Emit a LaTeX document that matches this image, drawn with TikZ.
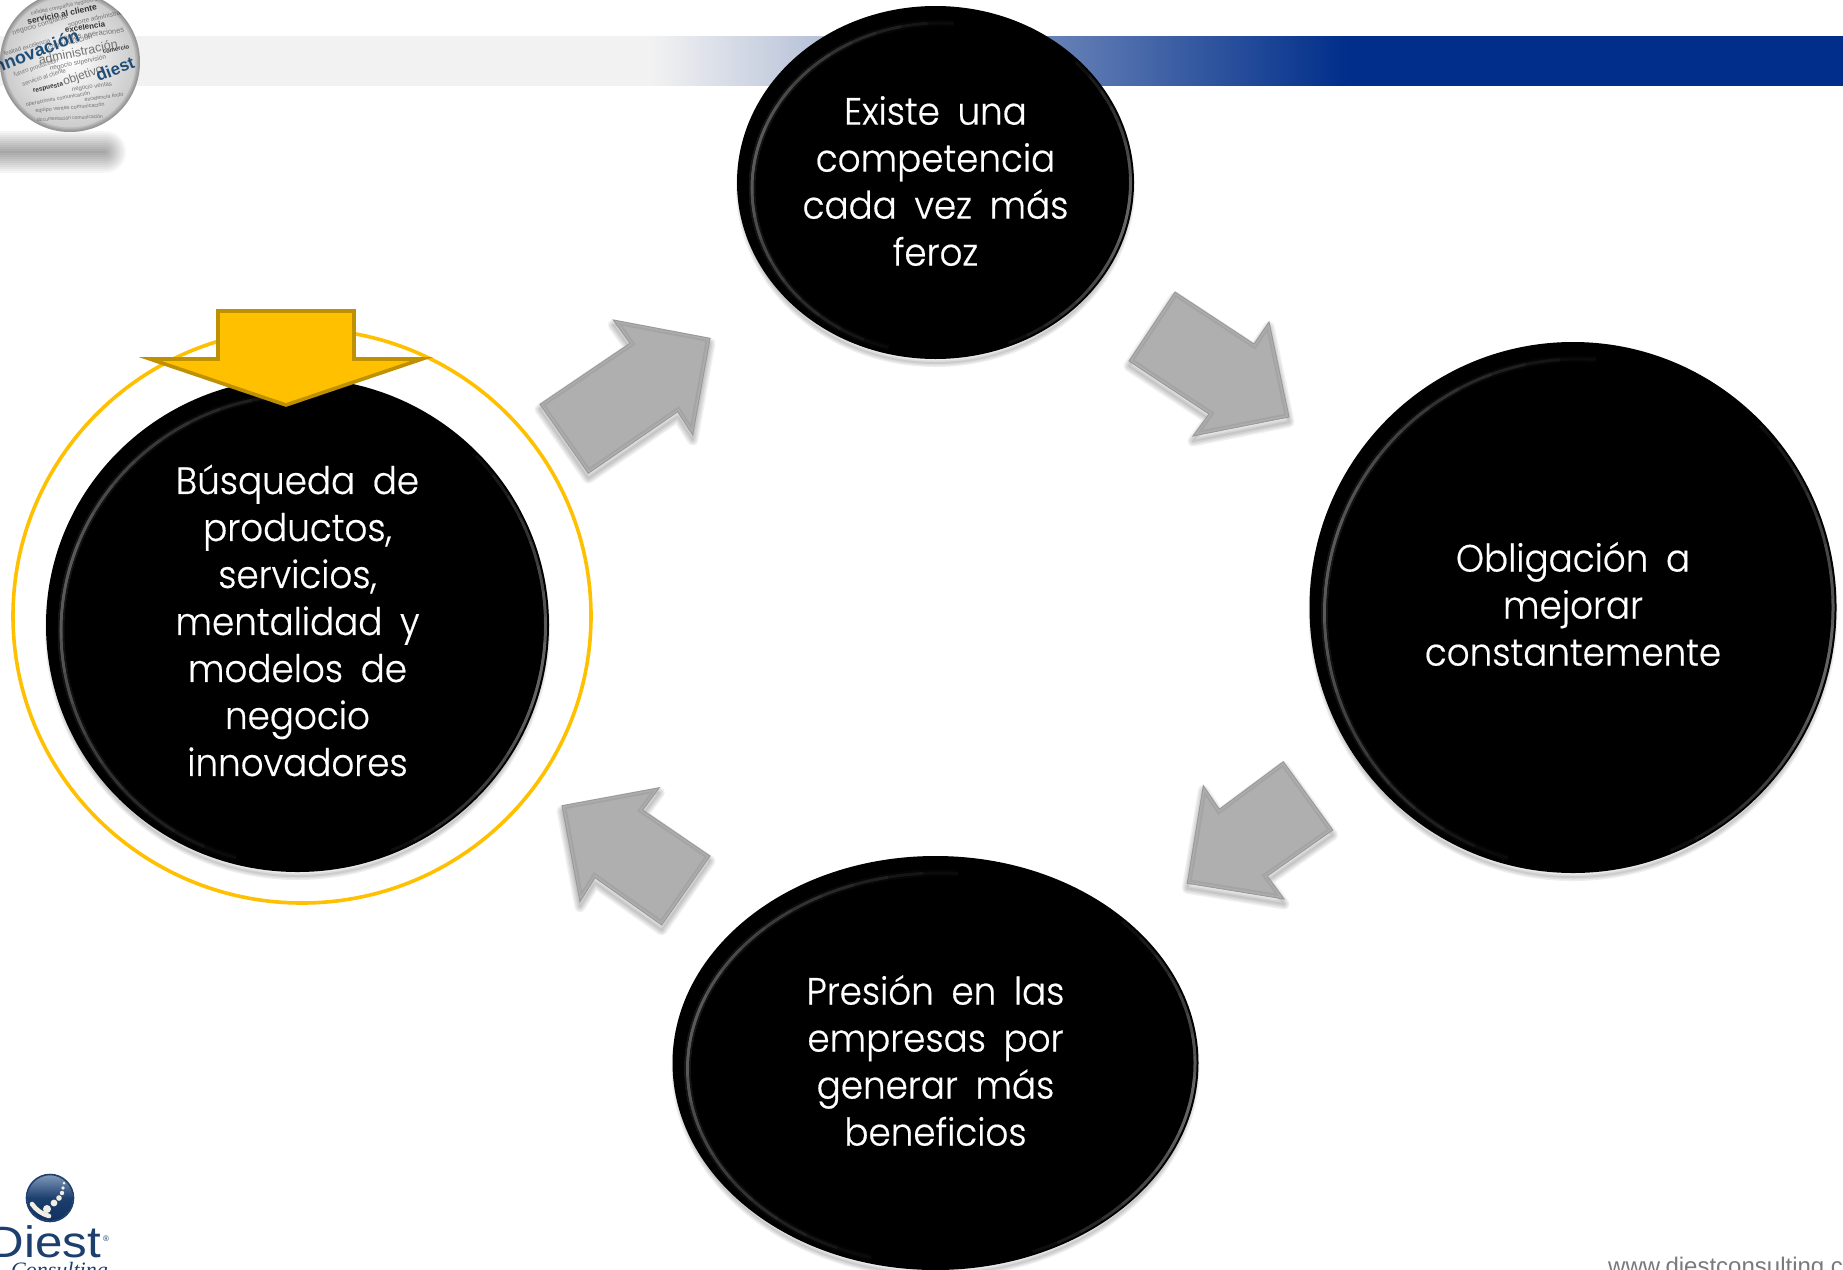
\documentclass[tikz,border=0pt]{standalone}
\usepackage{fontspec}
\setmainfont{Poppins}[UprightFont=* Light,FakeStretch=0.94,WordSpace=1.8,FakeBold=0.5]
\newfontfamily\arialf{Liberation Sans}
\newfontfamily\scriptf{Liberation Serif Italic}
\usetikzlibrary{shapes.geometric,calc}
\definecolor{bannerblue}{HTML}{002E8A}
\definecolor{bannergrey}{HTML}{F2F2F2}
\definecolor{goldfill}{HTML}{FFC000}
\definecolor{goldedge}{HTML}{BF9000}
\definecolor{arrowgrey}{HTML}{AFAFAF}
\definecolor{arrowedge}{HTML}{9A9A9A}
\definecolor{navy}{HTML}{1C3F6E}
\definecolor{navylight}{HTML}{7F97B8}
\definecolor{navydark}{HTML}{12305F}
\definecolor{wordblue}{HTML}{1F4E79}
\definecolor{pearl}{HTML}{F1EEE4}
\pgfdeclarehorizontalshading{bannershade}{100bp}{color(0bp)=(bannergrey); color(42.65bp)=(bannergrey); color(61.55bp)=(bannerblue); color(100bp)=(bannerblue)}
\newcommand{\fs}[1]{\fontsize{#1}{#1}\selectfont}
\tikzset{
  bubblenode/.style={ellipse,fill=black,inner sep=0pt,outer sep=0pt},
  bubbletext/.style={text=white,align=center,inner sep=0pt,font=\fontsize{38}{47}\selectfont},
  word/.style={inner sep=0pt,font=\arialf\fs{#1},text=black!55},
  boldword/.style={inner sep=0pt,font=\arialf\bfseries\fs{#1},text=black!80},
}
\newcommand{\softshade}[2]{%
  \foreach \w in {11,8,5,2}{\draw[black,opacity=.06,line width=\w pt,line join=round,shift={#1}] #2;}}
\newcommand{\blockarrow}[1]{%
  \softshade{(0pt,-5pt)}{#1}
  \fill[arrowgrey] #1;
  \begin{scope}\clip #1;
    \draw[black,opacity=.06,line width=8pt,line join=miter] #1;
    \draw[white,opacity=.10,line width=4pt,line join=miter] #1;
  \end{scope}
  \draw[arrowedge,line width=1pt,line join=miter] #1;
}
\newcommand{\bubble}[7]{% name cx cy rx ry text text-dy
  \foreach \w in {8,5,2}{\draw[black,opacity=.07,line width=\w pt] (#2,#3+5) ellipse [x radius=#4 pt-3pt,y radius=#5 pt-1pt];}
  \node[bubblenode,minimum width=#4*2 pt,minimum height=#5*2 pt] (#1) at (#2,#3) {};
  \node[bubbletext] (#1-t) at (#2,#3+#7) {#6};
  \pgfmathsetmacro{\irx}{#4-10}\pgfmathsetmacro{\iry}{#5-11}
  \coordinate (#1-i) at (#2+5,#3+6);
  \foreach \s in {12,20,...,84}{
    \pgfmathsetmacro{\a}{170-\s}\pgfmathsetmacro{\b}{170+\s}
    \draw[white,opacity=.035,line width=3pt] ($(#1-i)+(\a:\irx pt and \iry pt)$) arc[start angle=\a,end angle=\b,x radius=\irx pt,y radius=\iry pt];
    \draw[white,opacity=.012,line width=7pt] ($(#1-i)+(\a:\irx pt and \iry pt)$) arc[start angle=\a,end angle=\b,x radius=\irx pt,y radius=\iry pt];
  }
  \pgfmathsetmacro{\orx}{#4-3.5}\pgfmathsetmacro{\ory}{#5-3.5}
  \foreach \s in {8,14,...,56}{
    \pgfmathsetmacro{\a}{-12-\s}\pgfmathsetmacro{\b}{-12+\s}
    \draw[white,opacity=.055,line width=3pt] ($(#1)+(\a:\orx pt and \ory pt)$) arc[start angle=\a,end angle=\b,x radius=\orx pt,y radius=\ory pt];
  }
}
\begin{document}
\begin{tikzpicture}[x=1pt,y=-1pt]
\useasboundingbox (0,0) rectangle (1843,1269);
\clip (0,0) rectangle (1843,1269);
\fill[white] (0,0) rectangle (1843,1269);
% banner
\shade[shading=bannershade] (0,36) rectangle (1843,85);
% block arrows
\blockarrow{(540,404.3) -- (630,343.3) -- (613.3,320) -- (710,338.3) -- (692.7,435) -- (677.7,411.7) -- (588.3,473.3) -- cycle}
\blockarrow{(1175,292) -- (1254,344) -- (1269,322) -- (1289,417) -- (1193,436) -- (1209,414) -- (1129,361) -- cycle}
\blockarrow{(1283.3,761.7) -- (1332.7,830) -- (1267.3,876) -- (1284,899) -- (1187.3,883.3) -- (1203.3,785.7) -- (1219.3,809.3) -- cycle}
\blockarrow{(659.3,787.7) -- (642.7,810) -- (710,856) -- (661.7,925) -- (595,877.7) -- (580,901.7) -- (562,805.7) -- cycle}
% highlight ring
\draw[goldfill,line width=3.6pt] (302,616) ellipse [x radius=289pt,y radius=287pt];
% bubbles
\bubble{comp}{935.5}{182.5}{198.5}{176.5}{Existe una\\competencia\\cada vez más\\feroz}{-1.5}
\bubble{oblig}{1573}{607.5}{263.5}{265.5}{Obligación a\\mejorar\\constantemente}{-3.5}
\bubble{pres}{935.5}{1063}{263}{207}{Presión en las\\empresas por\\generar más\\beneficios}{-2.5}
\bubble{busq}{297.5}{625}{251.5}{247}{Búsqueda de\\productos,\\servicios,\\mentalidad y\\modelos de\\negocio\\innovadores}{-4.5}
% gold down arrow
\draw[goldedge,fill=goldfill,line width=3.6pt,line join=miter,miter limit=10]
  (218,311) -- (354,311) -- (354,359) -- (422,359) -- (286,405) -- (150,359) -- (218,359) -- cycle;
% ball shadow
\foreach \w in {2,6,...,42}{\draw[black,opacity=.036,line width=\w pt,line cap=round] (-30,152) -- (105,152);}
% word ball
\begin{scope}
  \clip (70,62) circle (70pt);
  \shade[inner color=white,outer color=black!22] (70,62) circle (72pt);
  \node[word=5.5,rotate=12] (w1) at (72,5) {calidad compañía negocio servicio};
  \node[boldword=8.5,rotate=12] (w2) at (62,14) {servicio al cliente};
  \node[word=6.5,rotate=13] (w3) at (100,18) {soporte administración};
  \node[word=7,rotate=17] (w4) at (40,25) {negocio compañía};
  \node[boldword=8,rotate=9] (w5) at (85,27) {excelencia};
  \node[word=7.5,rotate=8] (w6) at (92,35) {ventas operaciones};
  \node[word=6,rotate=16] (w7) at (27,47) {lealtad excelencia};
  \node[word=7.5,rotate=15] (w8) at (70,42) {comunicación};
  \node[word=12.5,rotate=12] (w9) at (78,52) {administración};
  \node[boldword=6,rotate=12] (w10) at (116,49) {comercio};
  \node[word=6,rotate=18] (w11) at (36,68) {futuro producción};
  \node[word=6.5,rotate=12] (w12) at (78,63) {negocio supervisión};
  \node[word=6,rotate=18] (w13) at (44,77) {servicio al cliente};
  \node[word=12,rotate=20] (w14) at (83,76) {objetivo};
  \node[boldword=6.5,rotate=12] (w15) at (48,88) {respuesta};
  \node[word=6,rotate=8] (w16) at (92,87) {negocio ventas};
  \node[word=5.5,rotate=10] (w17) at (58,99) {operaciones comunicación};
  \node[word=5.5,rotate=8] (w18) at (104,97) {excelencia éxito};
  \node[word=5.5,rotate=5] (w19) at (70,108) {equipo ventas comunicación};
  \node[word=5,rotate=3] (w20) at (70,118) {documentación comunicación};
  \node[boldword=18,rotate=21,text=wordblue] (w21) at (34,52) {innovación};
  \node[boldword=17,rotate=21,text=wordblue] (w22) at (115,69) {diest};
  \foreach \w in {8,5,2}{\draw[black,opacity=.09,line width=\w pt] (70,62) circle (69.5pt);}
\end{scope}
% logo
\shade[top color=navylight,bottom color=navydark,middle color=navy] (50,1198) circle (23pt);
\draw[navy,line width=1.6pt] (50,1198) circle (23.5pt);
\foreach \px/\py/\pr in {64/1183/1.5,63/1188/1.8,62/1193/2.2,59/1198/2.8,54/1203/3.4,47/1209/4}{\fill[pearl] (\px,\py) circle (\pr pt);}
\draw[pearl,line width=4.6pt,line cap=round] (32,1204) .. controls (36,1210) and (42,1214) .. (49,1216);
% logo text
\node[inner sep=0pt,anchor=base east,xscale=1.12,font=\arialf\fs{44},text=navy] (dst) at (101,1257) {Diest};
\node[inner sep=0pt,font=\arialf\fs{8},text=navy] (reg) at (106,1239) {®};
\node[inner sep=0pt,anchor=base west,font=\scriptf\fs{22},text=navy] (con) at (11,1277) {Consulting};
% footer url
\node[inner sep=0pt,anchor=base west,font=\arialf\fs{24},text=black!52] (url) at (1608,1274) {www.diestconsulting.com};
\end{tikzpicture}
\end{document}
